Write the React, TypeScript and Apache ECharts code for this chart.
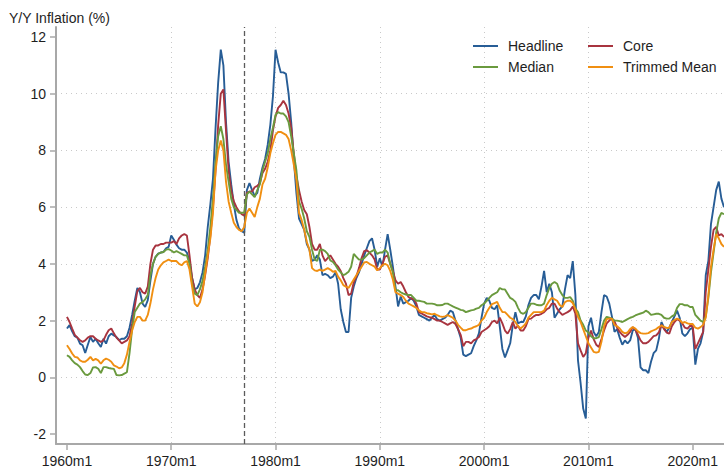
import React, { useEffect, useRef } from "react";
import * as echarts from "echarts";

// Quarterly readings, starting 1960m1, one value every 3 months (last value = 2023m1 edge)
const START_YEAR = 1960;
const STEP_YEARS = 0.25;

const headline = [
  1.72, 1.84, 1.62, 1.45, 1.40, 1.19, 1.13, 0.86, 1.15, 1.42, 1.25, 1.36, 1.20, 1.07, 1.36, 1.19,
  1.45, 1.54, 1.48, 1.42, 1.31, 1.36, 1.36, 1.45, 1.75, 2.20, 2.70, 3.15, 3.00, 2.60, 2.48, 2.72,
  3.40, 4.00, 4.25, 4.36, 4.40, 4.42, 4.55, 4.60, 5.00, 4.85, 4.68, 4.55, 4.50, 4.50, 4.40, 4.10,
  3.50, 3.10, 3.15, 3.35, 3.70, 4.30, 5.30, 6.10, 7.00, 8.80, 10.40, 11.55, 11.00, 9.00, 7.60, 6.80,
  6.10, 5.55, 5.25, 5.15, 5.10, 6.60, 6.85, 6.60, 6.40, 6.50, 7.00, 7.40, 7.70, 8.20, 8.90, 9.90,
  11.55, 11.10, 10.75, 10.75, 10.70, 10.00, 9.00, 7.70, 6.50, 5.60, 5.40, 5.20, 4.70, 4.50, 4.10, 4.15,
  4.30, 4.15, 3.60, 3.65, 3.60, 3.50, 3.55, 3.70, 3.30, 2.40, 1.95, 1.60, 1.60, 2.80, 3.20, 3.50,
  3.70, 4.00, 4.30, 4.55, 4.80, 4.90, 4.50, 3.90, 4.20, 3.90, 4.50, 5.05, 4.50, 3.90, 3.20, 2.50,
  2.85, 2.60, 2.65, 2.70, 2.80, 2.70, 2.50, 2.20, 2.15, 2.10, 2.05, 2.00, 2.10, 2.20, 2.05, 2.00,
  2.05, 2.10, 2.20, 2.35, 2.30, 2.00, 1.70, 1.40, 0.80, 0.75, 0.80, 0.85, 1.10, 1.30, 1.55, 2.10,
  2.60, 2.80, 2.70, 2.45, 2.40, 2.54, 1.80, 1.00, 0.70, 0.95, 1.20, 1.85, 2.30, 1.90, 1.95, 1.95,
  2.15, 2.55, 2.80, 2.90, 2.90, 2.75, 3.20, 3.75, 3.00, 3.30, 3.00, 2.10, 2.25, 2.40, 2.50, 3.10,
  3.60, 3.50, 4.10, 2.90, 0.60, -0.20, -1.10, -1.45, 1.80, 2.10, 1.60, 1.45, 1.60, 2.30, 2.90, 2.85,
  2.60, 2.15, 1.60, 1.70, 1.40, 1.15, 1.30, 1.20, 1.30, 1.65, 1.70, 1.40, 0.35, 0.25, 0.25, 0.15,
  0.55, 0.85, 0.95, 1.35, 1.95, 1.75, 1.60, 1.75, 1.95, 2.15, 2.35, 2.10, 1.55, 1.45, 1.55, 1.70,
  1.75, 0.45, 1.00, 1.20, 1.60, 3.60, 4.10, 5.40, 6.00, 6.60, 6.90, 6.30, 6.00,
];

const core = [
  2.13, 1.95, 1.72, 1.50, 1.40, 1.31, 1.25, 1.30, 1.40, 1.45, 1.45, 1.36, 1.30, 1.25, 1.30, 1.50,
  1.66, 1.72, 1.55, 1.40, 1.30, 1.20, 1.25, 1.30, 1.45, 1.90, 2.50, 3.05, 3.15, 3.00, 2.95, 3.20,
  4.00, 4.50, 4.65, 4.65, 4.70, 4.70, 4.75, 4.75, 4.75, 4.80, 4.70, 4.90, 5.00, 5.05, 5.00, 4.30,
  3.50, 3.10, 2.90, 2.80, 3.10, 3.60, 4.20, 5.00, 6.00, 7.30, 8.90, 10.00, 10.15, 8.70, 7.30, 6.60,
  6.20, 6.00, 5.85, 5.75, 5.70, 6.50, 6.55, 6.55, 6.70, 6.75, 6.85, 7.20, 7.35, 7.60, 8.00, 8.70,
  9.20, 9.50, 9.60, 9.75, 9.60, 9.30, 8.80, 7.90, 7.10, 6.60, 6.20, 5.90, 5.75, 5.30, 4.70, 4.50,
  4.50, 4.70, 4.30, 4.10, 4.20, 4.30, 4.15, 4.00, 3.90, 3.75, 3.50, 3.30, 2.90, 2.95, 3.35, 3.55,
  3.85, 4.20, 4.45, 4.48, 4.40, 4.30, 4.15, 3.80, 3.80, 4.00, 4.25, 4.30, 4.00, 3.75, 3.42, 3.30,
  3.36, 3.20, 3.00, 2.83, 2.78, 2.75, 2.60, 2.30, 2.25, 2.20, 2.15, 2.12, 2.10, 2.05, 2.00, 2.00,
  1.95, 1.90, 1.85, 1.90, 1.95, 1.88, 1.70, 1.50, 1.10, 1.25, 1.25, 1.20, 1.30, 1.35, 1.42, 1.60,
  1.66, 1.72, 1.80, 1.95, 2.00, 1.90, 2.10, 1.90, 1.65, 1.54, 1.70, 1.95, 1.72, 1.82, 1.65, 1.65,
  1.80, 2.05, 2.07, 2.15, 2.20, 2.20, 2.24, 2.30, 2.40, 2.45, 2.60, 2.60, 2.42, 2.30, 2.20, 2.25,
  2.30, 2.36, 2.50, 2.24, 1.20, 0.95, 0.72, 0.85, 1.40, 1.65, 1.35, 1.15, 1.07, 1.35, 1.65, 1.90,
  2.00, 2.07, 1.97, 1.75, 1.60, 1.50, 1.42, 1.50, 1.60, 1.77, 1.68, 1.50, 1.30, 1.20, 1.20, 1.25,
  1.35, 1.45, 1.48, 1.58, 1.85, 1.70, 1.58, 1.54, 1.80, 1.95, 2.05, 2.00, 1.90, 1.75, 1.72, 1.82,
  1.80, 1.00, 1.20, 1.40, 1.60, 3.00, 3.80, 4.60, 5.20, 5.30, 5.00, 5.05, 4.95,
];

const median = [
  0.78, 0.72, 0.60, 0.50, 0.45, 0.36, 0.22, 0.10, 0.08, 0.15, 0.35, 0.36, 0.30, 0.15, 0.36, 0.36,
  0.33, 0.31, 0.30, 0.08, 0.07, 0.08, 0.13, 0.18, 0.85, 1.70, 2.30, 2.45, 2.60, 2.65, 2.75, 2.90,
  3.60, 4.00, 4.25, 4.35, 4.40, 4.42, 4.50, 4.52, 4.47, 4.40, 4.45, 4.40, 4.35, 4.30, 4.30, 4.00,
  3.30, 2.95, 2.90, 3.10, 3.40, 3.90, 4.50, 5.30, 6.30, 7.60, 8.50, 8.85, 8.40, 7.50, 6.90, 6.30,
  6.00, 5.90, 5.80, 5.80, 5.80, 6.45, 6.55, 6.45, 6.35, 6.60, 6.80, 7.30, 7.60, 7.90, 8.40, 8.80,
  9.25, 9.35, 9.30, 9.30, 9.20, 9.00, 8.50, 7.90, 7.30, 6.20, 5.95, 5.60, 5.15, 4.95, 4.50, 4.15,
  4.10, 4.50, 4.50, 4.45, 4.35, 4.12, 4.07, 3.95, 3.80, 3.70, 3.60, 3.65, 3.72, 3.90, 4.35, 4.25,
  4.15, 4.15, 4.20, 4.30, 4.40, 4.45, 4.50, 4.35, 4.40, 4.40, 4.50, 4.40, 4.00, 3.70, 3.07, 3.07,
  3.00, 2.95, 2.92, 2.90, 2.90, 2.80, 2.70, 2.70, 2.68, 2.66, 2.60, 2.60, 2.60, 2.58, 2.54, 2.54,
  2.55, 2.60, 2.60, 2.55, 2.50, 2.46, 2.42, 2.38, 2.36, 2.30, 2.33, 2.36, 2.38, 2.42, 2.45, 2.54,
  2.60, 2.70, 2.80, 2.90, 2.95, 3.00, 3.15, 3.10, 3.10, 2.95, 2.80, 2.75, 2.66, 2.45, 2.28, 2.24,
  2.30, 2.45, 2.60, 2.60, 2.56, 2.54, 2.54, 2.60, 2.90, 3.15, 3.30, 3.36, 3.30, 3.05, 2.90, 2.80,
  2.80, 2.83, 2.70, 2.42, 2.30, 2.00, 1.85, 1.65, 1.58, 1.45, 1.38, 1.38, 1.42, 1.70, 2.00, 2.13,
  2.10, 2.07, 2.00, 2.00, 1.98, 1.95, 2.00, 2.05, 2.10, 2.13, 2.18, 2.22, 2.25, 2.28, 2.35, 2.30,
  2.20, 2.22, 2.24, 2.24, 2.20, 2.10, 2.07, 2.07, 2.15, 2.20, 2.45, 2.58, 2.58, 2.54, 2.54, 2.48,
  2.48, 2.20, 2.10, 2.00, 1.95, 2.15, 2.80, 3.70, 4.40, 5.10, 5.60, 5.80, 5.75,
];

const trimmedMean = [
  1.13, 1.00, 0.84, 0.72, 0.70, 0.60, 0.55, 0.55, 0.62, 0.72, 0.60, 0.65, 0.60, 0.48, 0.60, 0.66,
  0.62, 0.55, 0.42, 0.38, 0.32, 0.35, 0.50, 0.80, 1.25, 1.65, 1.95, 2.13, 2.13, 2.00, 2.00, 2.20,
  2.60, 3.10, 3.50, 3.80, 3.95, 4.05, 4.10, 4.15, 4.10, 4.10, 4.10, 4.00, 3.95, 4.05, 4.10, 3.80,
  3.20, 2.60, 2.50, 2.65, 3.00, 3.65, 4.30, 4.90, 5.80, 7.30, 8.00, 8.35, 8.00, 6.90, 6.20, 5.80,
  5.45, 5.30, 5.20, 5.15, 5.30, 5.80, 5.95, 5.80, 5.65, 6.00, 6.30, 6.80, 7.00, 7.40, 7.90, 8.25,
  8.55, 8.65, 8.65, 8.60, 8.55, 8.40, 8.00, 7.50, 6.95, 5.80, 5.55, 5.20, 4.77, 4.50, 3.85, 3.77,
  3.75, 3.80, 3.75, 3.80, 3.85, 3.80, 3.72, 3.75, 3.55, 3.42, 3.25, 3.20, 3.15, 3.30, 3.45, 3.60,
  3.75, 3.90, 4.05, 4.07, 4.00, 3.95, 3.90, 3.77, 3.85, 3.95, 4.00, 3.95, 3.75, 3.45, 3.00, 2.95,
  2.90, 2.83, 2.70, 2.60, 2.55, 2.50, 2.45, 2.36, 2.30, 2.30, 2.26, 2.24, 2.22, 2.24, 2.19, 2.15,
  2.13, 2.15, 2.19, 2.15, 2.10, 2.00, 1.85, 1.75, 1.66, 1.66, 1.70, 1.72, 1.77, 1.80, 1.85, 2.00,
  2.10, 2.30, 2.45, 2.58, 2.62, 2.66, 2.45, 2.30, 2.30, 2.20, 2.10, 2.05, 1.95, 1.80, 1.72, 1.80,
  1.90, 2.10, 2.20, 2.30, 2.30, 2.30, 2.30, 2.35, 2.55, 2.70, 2.80, 2.75, 2.70, 2.55, 2.48, 2.65,
  2.70, 2.70, 2.62, 2.40, 2.13, 1.95, 1.70, 1.45, 1.20, 1.05, 0.90, 0.87, 0.90, 1.25, 1.80, 2.05,
  2.07, 2.07, 1.85, 1.80, 1.72, 1.60, 1.55, 1.58, 1.70, 1.77, 1.72, 1.62, 1.56, 1.54, 1.54, 1.56,
  1.62, 1.66, 1.70, 1.77, 1.83, 1.78, 1.74, 1.75, 1.95, 2.02, 2.07, 2.03, 1.92, 1.95, 1.90, 1.88,
  1.88, 1.75, 1.72, 1.77, 1.85, 2.10, 2.90, 3.90, 4.50, 5.05, 4.90, 4.70, 4.60,
];

const seriesNames = ["Headline", "Core", "Median", "Trimmed Mean"];
const seriesValues = [headline, core, median, trimmedMean];
const xTickYears = [1960, 1970, 1980, 1990, 2000, 2010, 2020];
const yTickValues = [-2, 0, 2, 4, 6, 8, 10, 12];
const breakYear = 1977;

const COLORS = ["#275d96", "#a8343f", "#6a9a3e", "#f08f11"];
const FONT = "'Liberation Sans', Arial, Helvetica, sans-serif";
const AXIS_COLOR = "#a8a8a8";
const GRID_COLOR = "#c9c9c9";
const TEXT_COLOR = "#1e1e1e";

const legendSpots = [
  { left: 473, top: 38 },
  { left: 588, top: 38 },
  { left: 473, top: 59 },
  { left: 588, top: 59 },
];

function toPairs(values: number[]) {
  return values.map((v, i) => [START_YEAR + i * STEP_YEARS, v]);
}

export default function App() {
  const ref = useRef<HTMLDivElement>(null);

  useEffect(() => {
    if (!ref.current) return;
    const chart = echarts.init(ref.current, undefined, { renderer: "svg" });

    const series: any[] = seriesNames.map((name, k) => ({
      name,
      type: "line",
      data: toPairs(seriesValues[k]),
      showSymbol: false,
      symbol: "none",
      color: COLORS[k],
      lineStyle: { color: COLORS[k], width: 1.9 },
      emphasis: { disabled: true },
      clip: true,
      z: 3 + k,
    }));
    series[0].markLine = {
      silent: true,
      symbol: ["none", "none"],
      label: { show: false },
      lineStyle: { type: [5, 3], color: "#5a5a5a", width: 1.3 },
      emphasis: { disabled: true },
      data: [{ xAxis: breakYear }],
    };

    const legends = seriesNames.map((name, k) => ({
      data: [name],
      left: legendSpots[k].left,
      top: legendSpots[k].top,
      padding: 0,
      icon: "rect",
      itemWidth: 25,
      itemHeight: 2,
      selectedMode: false,
      textStyle: {
        fontSize: 14,
        fontFamily: FONT,
        color: TEXT_COLOR,
        lineHeight: 16,
        padding: [0, 0, 0, 5],
      },
    }));

    chart.setOption({
      animation: false,
      backgroundColor: "#ffffff",
      title: {
        text: "Y/Y Inflation (%)",
        left: 9,
        top: 11,
        padding: 0,
        textStyle: {
          fontSize: 14,
          fontWeight: "normal",
          fontFamily: FONT,
          color: TEXT_COLOR,
        },
      },
      legend: legends,
      grid: {
        left: 56,
        right: 0,
        top: 27,
        bottom: 27,
        containLabel: false,
        outerBoundsMode: "none",
      },
      xAxis: {
        type: "value",
        min: 1958.95,
        max: 2023.0,
        axisLine: { show: true, onZero: false, lineStyle: { color: AXIS_COLOR, width: 2 } },
        axisTick: {
          show: true,
          length: 6,
          customValues: xTickYears,
          lineStyle: { color: AXIS_COLOR, width: 1.5 },
        },
        axisLabel: {
          customValues: xTickYears,
          formatter: (v: number) => `${Math.round(v)}m1`,
          fontSize: 14,
          fontFamily: FONT,
          color: TEXT_COLOR,
          margin: 10,
        },
        splitLine: {
          show: true,
          showMinLine: false,
          showMaxLine: false,
          lineStyle: { type: [1, 4], color: GRID_COLOR, width: 1 },
        },
      },
      yAxis: {
        type: "value",
        min: -2.35,
        max: 12.35,
        axisLine: { show: true, onZero: false, lineStyle: { color: AXIS_COLOR, width: 2 } },
        axisTick: {
          show: true,
          length: 6,
          customValues: yTickValues,
          lineStyle: { color: AXIS_COLOR, width: 1.5 },
        },
        axisLabel: {
          customValues: yTickValues,
          fontSize: 14,
          fontFamily: FONT,
          color: TEXT_COLOR,
          margin: 10,
        },
        splitLine: {
          show: true,
          showMinLine: false,
          showMaxLine: false,
          lineStyle: { type: [1, 4], color: GRID_COLOR, width: 1 },
        },
      },
      series,
    });

    return () => {
      chart.dispose();
    };
  }, []);

  return (
    <div
      ref={ref}
      style={{ position: "fixed", left: 0, top: 0, width: 724, height: 471, background: "#fff" }}
    />
  );
}
